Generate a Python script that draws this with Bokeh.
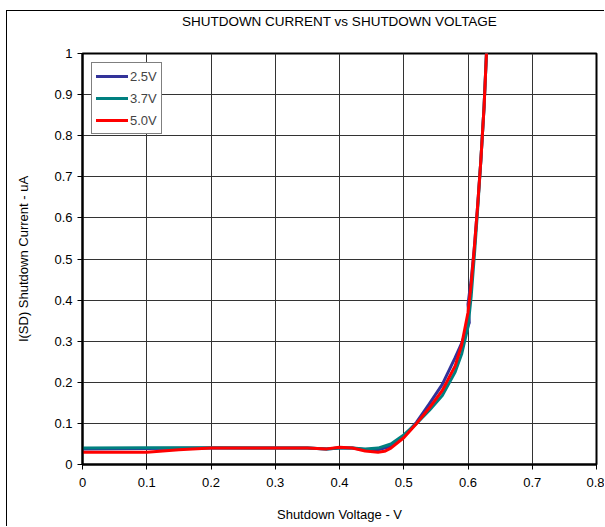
from bokeh.plotting import figure
from bokeh.models import FixedTicker, Legend, LegendItem, Range1d, Title
from bokeh.embed import file_html
from bokeh.resources import INLINE

title_text = "SHUTDOWN CURRENT vs SHUTDOWN VOLTAGE"
x_label = "Shutdown Voltage - V"
y_label = "I(SD) Shutdown Current - uA"
series_names = ["2.5V", "3.7V", "5.0V"]
series_colors = ["#333399", "#008080", "#FF0000"]

x_ticks = [0, 0.1, 0.2, 0.3, 0.4, 0.5, 0.6, 0.7, 0.8]
x_tick_labels = ["0", "0.1", "0.2", "0.3", "0.4", "0.5", "0.6", "0.7", "0.8"]
y_ticks = [0, 0.1, 0.2, 0.3, 0.4, 0.5, 0.6, 0.7, 0.8, 0.9, 1.0]
y_tick_labels = ["0", "0.1", "0.2", "0.3", "0.4", "0.5", "0.6", "0.7", "0.8", "0.9", "1"]

# 2.5V
v_25 = [0.00, 0.10, 0.20, 0.30, 0.35, 0.38, 0.40, 0.42, 0.44, 0.46, 0.48, 0.50,
        0.52, 0.54, 0.56, 0.58, 0.59, 0.602, 0.600, 0.605, 0.61, 0.615, 0.62, 0.625, 0.629]
i_25 = [0.038, 0.039, 0.040, 0.040, 0.040, 0.038, 0.040, 0.040, 0.036, 0.036, 0.044, 0.068,
        0.103, 0.148, 0.195, 0.260, 0.295, 0.345, 0.390, 0.450, 0.530, 0.630, 0.740, 0.870, 1.010]
# 3.7V
v_37 = [0.00, 0.10, 0.20, 0.30, 0.35, 0.38, 0.40, 0.42, 0.44, 0.46, 0.48, 0.50,
        0.52, 0.54, 0.56, 0.58, 0.59, 0.60, 0.605, 0.61, 0.615, 0.62, 0.625, 0.629]
i_37 = [0.040, 0.041, 0.041, 0.040, 0.040, 0.038, 0.040, 0.040, 0.038, 0.040, 0.050, 0.072,
        0.100, 0.132, 0.168, 0.225, 0.268, 0.335, 0.410, 0.510, 0.620, 0.740, 0.870, 1.010]
# 5.0V
v_50 = [0.00, 0.05, 0.10, 0.15, 0.20, 0.30, 0.35, 0.38, 0.40, 0.42, 0.44, 0.46, 0.47, 0.48,
        0.50, 0.52, 0.54, 0.56, 0.58, 0.59, 0.60, 0.605, 0.61, 0.615, 0.62, 0.625, 0.629]
i_50 = [0.030, 0.030, 0.030, 0.036, 0.040, 0.040, 0.040, 0.038, 0.042, 0.040, 0.033, 0.030, 0.032, 0.040,
        0.065, 0.100, 0.138, 0.180, 0.240, 0.290, 0.370, 0.440, 0.530, 0.630, 0.740, 0.870, 1.010]

xs = [v_25, v_37, v_50]
ys = [i_25, i_37, i_50]

FONT = "Liberation Sans"

p = figure(width=598, height=516, x_range=Range1d(0, 0.8), y_range=Range1d(0, 1),
           output_backend="svg", toolbar_location=None,
           min_border_left=75, min_border_right=9, min_border_top=42, min_border_bottom=63)
p.styles = {"margin-left": "6px", "margin-top": "10px",
            "border-left": "1px solid black", "border-top": "1px solid black"}
p.background_fill_color = "white"
p.border_fill_color = "white"
p.outline_line_color = "black"
p.outline_line_width = 2

# invisible spacer between the frame and the title, pushes the title up
spacer = Title(text="\u00a0", text_font=FONT, text_font_size="13px", standoff=8)
p.add_layout(spacer, "above")

p.title.text = title_text
p.title.align = "center"
p.title.text_font = FONT
p.title.text_font_size = "13.5px"
p.title.text_font_style = "normal"
p.title.text_color = "black"
p.title.standoff = 0
p.title.offset = -5

for ax, ticks, labels in ((p.xaxis[0], x_ticks, x_tick_labels), (p.yaxis[0], y_ticks, y_tick_labels)):
    ax.ticker = FixedTicker(ticks=ticks)
    ax.major_label_overrides = {t: l for t, l in zip(ticks, labels)}
    ax.minor_tick_line_color = None
    ax.major_tick_in = 0
    ax.major_tick_out = 5
    ax.major_tick_line_color = "black"
    ax.axis_line_color = "black"
    ax.axis_line_width = 2
    ax.major_label_text_font = FONT
    ax.major_label_text_font_size = "13px"
    ax.major_label_text_color = "black"
    ax.axis_label_text_font = FONT
    ax.axis_label_text_font_size = "13px"
    ax.axis_label_text_font_style = "normal"
    ax.axis_label_text_color = "black"

p.xaxis.axis_label = x_label
p.yaxis.axis_label = y_label
p.xaxis.major_label_standoff = 8
p.yaxis.major_label_standoff = 5
p.xaxis.axis_label_standoff = 17
p.yaxis.axis_label_standoff = 20

p.xgrid.ticker = FixedTicker(ticks=x_ticks)
p.ygrid.ticker = FixedTicker(ticks=y_ticks)
p.grid.grid_line_color = "#333333"
p.grid.grid_line_width = 1

renderers = []
for x, y, c in zip(xs, ys, series_colors):
    r = p.line(x, y, line_color=c, line_width=3, line_join="round", line_cap="round")
    renderers.append(r)

legend = Legend(items=[LegendItem(label=n, renderers=[r]) for n, r in zip(series_names, renderers)],
                location="top_left")
legend.label_text_font = FONT
legend.label_text_font_size = "13px"
legend.glyph_width = 32
legend.glyph_height = 18
legend.label_height = 18
legend.spacing = 4
legend.padding = 4
legend.margin = 9
legend.label_standoff = 2
legend.border_line_color = "black"
legend.border_line_width = 1
legend.background_fill_color = "white"
legend.background_fill_alpha = 1
p.add_layout(legend)

open("out.html", "w").write(file_html(p, INLINE))
